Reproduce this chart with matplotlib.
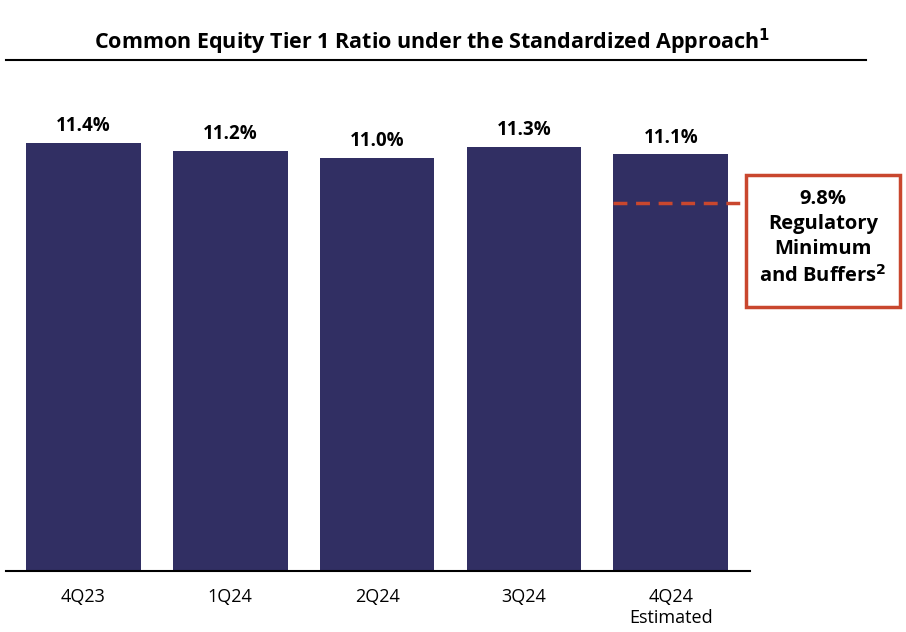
import matplotlib.pyplot as plt
from matplotlib.patches import Rectangle
from matplotlib.lines import Line2D

quarters = ['4Q23', '1Q24', '2Q24', '3Q24', '4Q24\nEstimated']
cet1 = [11.4, 11.2, 11.0, 11.3, 11.1]
reg_min = 9.8

bar_color = '#312F63'
red = '#C9472E'

W, H = 906, 632
fig = plt.figure(figsize=(W / 100, H / 100), dpi=100)
plt.rcParams['font.family'] = ['Open Sans', 'DejaVu Sans']

# axes: baseline at y=571px, left 6px, right 750px
ax = fig.add_axes([6 / W, (H - 571) / H, 744 / W, (571 - 100) / H])
x = range(len(quarters))
ax.bar(x, cet1, width=0.78, color=bar_color)
ax.set_xlim(-0.528, 4.54)
ax.set_ylim(0, 571 / 37.54 - 100 / 37.54)

for xi, v in zip(x, cet1):
    ax.text(xi, v + 0.18, f'{v:.1f}%', ha='center', va='bottom',
            fontsize=13.5, fontweight='bold', color='black')

ax.set_xticks(list(x))
ax.set_xticklabels(quarters, fontsize=13, linespacing=1.25)
ax.tick_params(axis='x', length=0, pad=12)
ax.set_yticks([])
for s in ['top', 'right', 'left']:
    ax.spines[s].set_visible(False)
ax.spines['bottom'].set_linewidth(1.5)

# dashed regulatory minimum line
ax.plot([4 - 0.39, 4.515], [reg_min, reg_min], color=red, lw=2.5,
        linestyle=(0, (4, 2.5)), clip_on=False)

# callout box
fig.patches.append(Rectangle((746 / W, (H - 307) / H), 154 / W, 132 / H,
                             transform=fig.transFigure, fill=False,
                             edgecolor=red, lw=2.5))
fig.text(823 / W, (H - 238) / H,
         '9.8%\nRegulatory\nMinimum\nand Buffers$^{\\mathbf{2}}$',
         ha='center', va='center', fontsize=14.5, fontweight='bold',
         linespacing=1.33)

# title and rule
fig.text(432 / W, (H - 42) / H,
         'Common Equity Tier 1 Ratio under the Standardized Approach$^{\\mathbf{1}}$',
         ha='center', va='center', fontsize=15.5, fontweight='bold')
fig.lines.append(Line2D([6 / W, 866 / W], [(H - 60) / H] * 2,
                        transform=fig.transFigure, color='black', lw=1.5))

fig.savefig('out.png', dpi=100)
